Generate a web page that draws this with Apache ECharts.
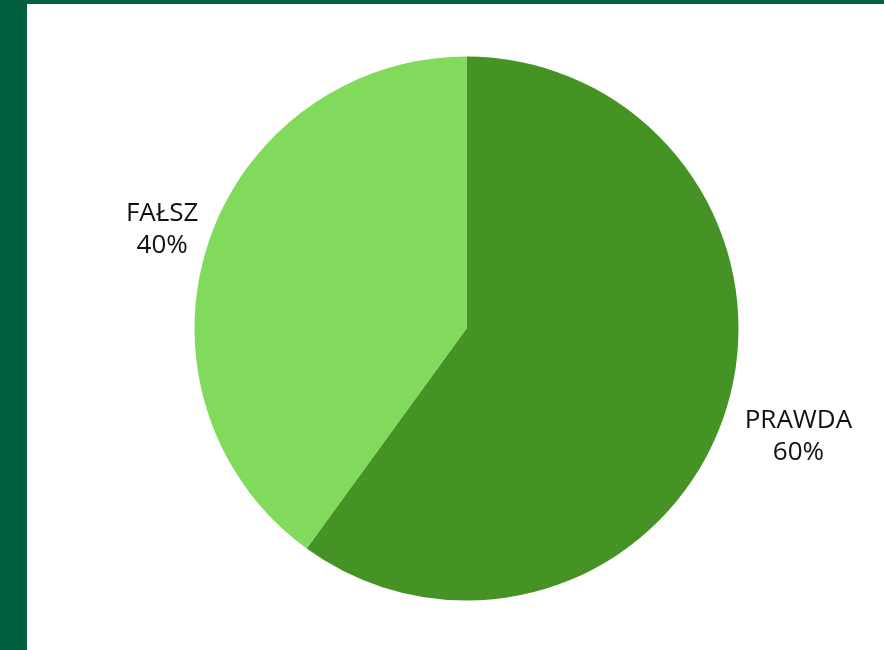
<!DOCTYPE html>
<html>
<head>
<meta charset="utf-8">
<script src="https://cdn.jsdelivr.net/npm/echarts@6/dist/echarts.min.js"></script>
<style>
  html, body { margin: 0; padding: 0; background: #fff; }
  #frame { width: 884px; height: 650px; box-sizing: border-box; border-left: 27px solid #02603f; border-top: 4px solid #02603f; }
  #pieChart { width: 857px; height: 646px; }
</style>
</head>
<body>
<div id="frame"><div id="pieChart"></div></div>
<script>
const categories = ['PRAWDA', 'FAŁSZ'];
const values = [60, 40];
const colors = ['#459324', '#81da5c'];
// distance of each label centre from the pie centre
const labelRadius = [349, 320];

const cx = 439.5;
const cy = 324.5;
const radius = 272;

const total = values.reduce((a, b) => a + b, 0);
const midAngles = [];
let acc = 0;
values.forEach((v) => {
  midAngles.push(((acc + v / 2) / total) * Math.PI * 2);
  acc += v;
});

const pieChart = echarts.init(document.getElementById('pieChart'));
const option = {
  animation: false,
  series: [
    {
      type: 'pie',
      center: [cx, cy],
      radius: radius,
      startAngle: 90,
      clockwise: true,
      avoidLabelOverlap: false,
      data: categories.map((name, i) => ({
        name: name,
        value: values[i],
        itemStyle: { color: colors[i] }
      })),
      label: {
        show: true,
        position: 'outside',
        formatter: '{b}\n{d}%',
        fontFamily: 'Open Sans',
        fontSize: 26,
        lineHeight: 32,
        color: '#111',
        align: 'center',
        overflow: 'none'
      },
      labelLine: { show: false },
      labelLayout: function (params) {
        const i = params.dataIndex;
        const a = midAngles[i];
        return {
          x: cx + Math.sin(a) * labelRadius[i],
          y: cy - Math.cos(a) * labelRadius[i],
          align: 'center',
          verticalAlign: 'middle'
        };
      },
      emphasis: { disabled: true }
    }
  ]
};
pieChart.setOption(option);
</script>
</body>
</html>
